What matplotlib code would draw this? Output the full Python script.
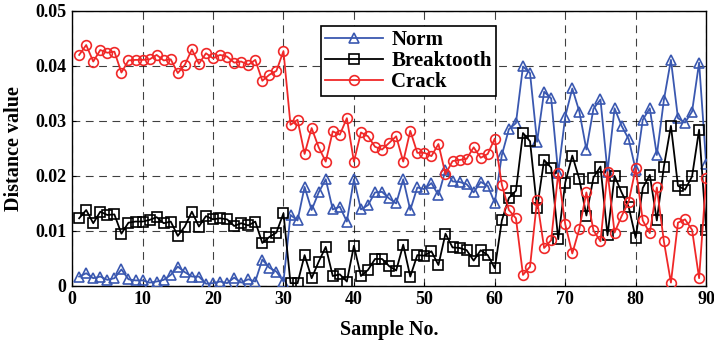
import numpy as np
import matplotlib
matplotlib.use("Agg")
import matplotlib.pyplot as plt

samples = np.arange(1, 91)

norm = [0.0017, 0.0023, 0.0014, 0.0017, 0.0011, 0.0014, 0.0030, 0.0012, 0.0010, 0.0010,
        0.0006, 0.0008, 0.0011, 0.0020, 0.0035, 0.0025, 0.0017, 0.0017, 0.0004, 0.0005,
        0.0008, 0.0005, 0.0015, 0.0006, 0.0012, 0.0008, 0.0048, 0.0033, 0.0026, 0.0008,
        0.0129, 0.0119, 0.0180, 0.0138, 0.0170, 0.0194, 0.0139, 0.0144, 0.0117, 0.0194,
        0.0139, 0.0147, 0.0170, 0.0171, 0.0159, 0.0150, 0.0194, 0.0138, 0.0179, 0.0176,
        0.0187, 0.0165, 0.0211, 0.0190, 0.0189, 0.0185, 0.0170, 0.0189, 0.0182, 0.0151,
        0.0238, 0.0285, 0.0296, 0.0399, 0.0387, 0.0262, 0.0353, 0.0341, 0.0205, 0.0308,
        0.0359, 0.0317, 0.0248, 0.0322, 0.0339, 0.0208, 0.0323, 0.0291, 0.0267, 0.0211,
        0.0302, 0.0323, 0.0238, 0.0338, 0.0411, 0.0305, 0.0297, 0.0317, 0.0406, 0.0222]

breaktooth = [0.0123, 0.0138, 0.0114, 0.0135, 0.0129, 0.0130, 0.0095, 0.0115, 0.0117, 0.0117,
              0.0120, 0.0125, 0.0114, 0.0117, 0.0091, 0.0108, 0.0135, 0.0108, 0.0127, 0.0121,
              0.0123, 0.0121, 0.0109, 0.0114, 0.0110, 0.0117, 0.0078, 0.0089, 0.0097, 0.0132,
              0.0005, 0.0005, 0.0056, 0.0014, 0.0044, 0.0071, 0.0018, 0.0021, 0.0008, 0.0073,
              0.0018, 0.0029, 0.0049, 0.0049, 0.0036, 0.0028, 0.0075, 0.0017, 0.0056, 0.0055,
              0.0063, 0.0038, 0.0095, 0.0070, 0.0069, 0.0065, 0.0046, 0.0065, 0.0056, 0.0032,
              0.0119, 0.0160, 0.0173, 0.0278, 0.0263, 0.0141, 0.0229, 0.0215, 0.0085, 0.0188,
              0.0237, 0.0194, 0.0128, 0.0197, 0.0217, 0.0092, 0.0200, 0.0170, 0.0144, 0.0087,
              0.0178, 0.0202, 0.0119, 0.0217, 0.0291, 0.0182, 0.0175, 0.0199, 0.0284, 0.0102]

crack = [0.0420, 0.0438, 0.0408, 0.0429, 0.0424, 0.0426, 0.0388, 0.0410, 0.0411, 0.0411,
         0.0412, 0.0420, 0.0410, 0.0412, 0.0387, 0.0402, 0.0430, 0.0404, 0.0423, 0.0414,
         0.0420, 0.0417, 0.0406, 0.0408, 0.0402, 0.0411, 0.0373, 0.0384, 0.0391, 0.0427,
         0.0293, 0.0302, 0.0240, 0.0287, 0.0252, 0.0226, 0.0281, 0.0275, 0.0305, 0.0226,
         0.0279, 0.0272, 0.0253, 0.0248, 0.0260, 0.0272, 0.0226, 0.0282, 0.0242, 0.0242,
         0.0236, 0.0258, 0.0203, 0.0227, 0.0229, 0.0231, 0.0252, 0.0233, 0.0240, 0.0268,
         0.0184, 0.0138, 0.0123, 0.0020, 0.0035, 0.0156, 0.0069, 0.0083, 0.0205, 0.0112,
         0.0059, 0.0104, 0.0170, 0.0101, 0.0081, 0.0207, 0.0097, 0.0127, 0.0153, 0.0214,
         0.0119, 0.0096, 0.0179, 0.0081, 0.0006, 0.0115, 0.0121, 0.0102, 0.0014, 0.0196]

yticks = [0, 0.01, 0.02, 0.03, 0.04, 0.05]
ytick_labels = ["0", "0.01", "0.02", "0.03", "0.04", "0.05"]

plt.rcParams['font.family'] = ['Liberation Serif', 'DejaVu Serif']
plt.rcParams['font.weight'] = 'bold'

fig = plt.figure(figsize=(7.14, 3.42), dpi=100)
ax = fig.add_axes([0.101, 0.164, 0.888, 0.804])

ax.plot(samples, norm, color='#3a58b0', marker='^', markersize=7.5, markerfacecolor='none',
        markeredgewidth=1.2, linewidth=1.3, label='Norm', zorder=3)
ax.plot(samples, breaktooth, color='black', marker='s', markersize=6.5, markerfacecolor='none',
        markeredgewidth=1.2, linewidth=1.3, label='Breaktooth', zorder=3)
ax.plot(samples, crack, color='#f02828', marker='o', markersize=7, markerfacecolor='none',
        markeredgewidth=1.2, linewidth=1.3, label='Crack', zorder=3)

ax.set_xlim(0, 90)
ax.set_ylim(0, 0.05)
ax.set_xticks(range(0, 91, 10))
ax.set_yticks(yticks)
ax.set_yticklabels(ytick_labels)
ax.tick_params(labelsize=13, direction='in', length=3, pad=4)
ax.grid(True, color='black', linestyle=(0, (7, 5)), linewidth=0.8, alpha=0.75)
for s in ax.spines.values():
    s.set_linewidth(1.0)

ax.set_xlabel("Sample No.", fontsize=14.5, fontweight='bold', labelpad=8)
ax.set_ylabel("Distance value", fontsize=14.5, fontweight='bold', labelpad=8)

# legend box sits just left of the x=50 grid line, near the top
leg = ax.legend(loc='upper left', bbox_to_anchor=(0.392, 0.945), fontsize=15, frameon=True,
                fancybox=False, edgecolor='black', framealpha=1, handlelength=2.8,
                borderpad=0.2, labelspacing=0.05, handletextpad=0.4, borderaxespad=0)
leg.get_frame().set_linewidth(1.2)

fig.savefig("out.png", dpi=100)
